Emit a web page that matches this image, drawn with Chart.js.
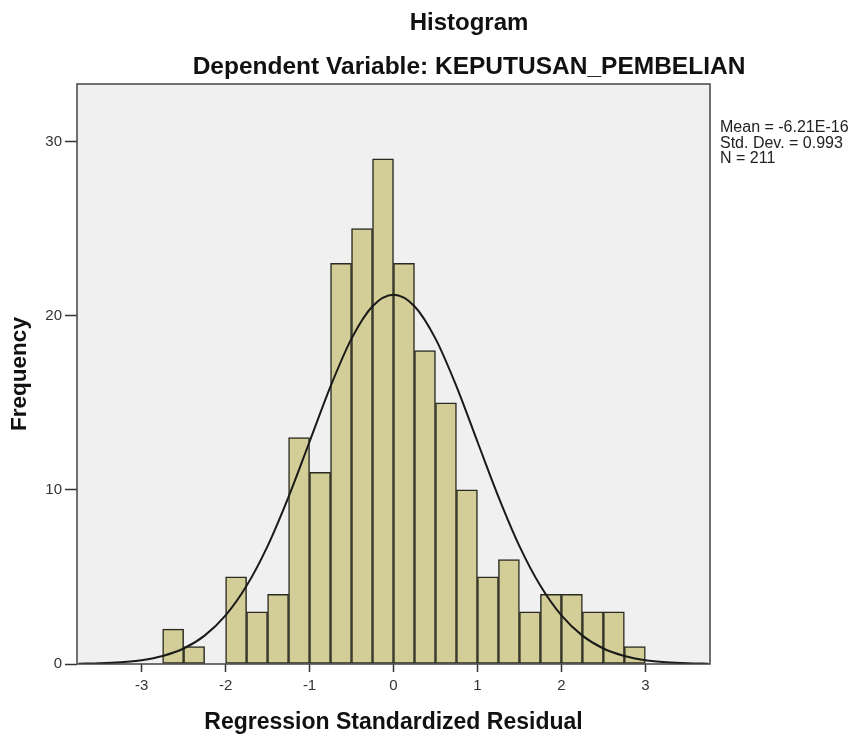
<!DOCTYPE html>
<html>
<head>
<meta charset="utf-8">
<script src="https://cdn.jsdelivr.net/npm/chart.js@4/dist/chart.umd.min.js"></script>
<style>
  html, body { margin: 0; padding: 0; background: #ffffff; }
  #wrap { width: 855px; height: 738px; }
</style>
</head>
<body>
<div id="wrap"><canvas id="c" width="855" height="738"></canvas></div>
<script>
// ---- data ----
const binCenters = [-2.625, -2.375, -2.125, -1.875, -1.625, -1.375, -1.125, -0.875, -0.625, -0.375, -0.125,
                    0.125, 0.375, 0.625, 0.875, 1.125, 1.375, 1.625, 1.875, 2.125, 2.375, 2.625, 2.875];
const frequencies = [2, 1, 0, 5, 3, 4, 13, 11, 23, 25, 29,
                     23, 18, 15, 10, 5, 6, 3, 4, 4, 3, 3, 1];
const curveX = [-3.75, -3.5, -3.25, -3.0, -2.75, -2.5, -2.25, -2.0, -1.75, -1.5, -1.25, -1.0, -0.75, -0.5, -0.25, 0,
                0.25, 0.5, 0.75, 1.0, 1.25, 1.5, 1.75, 2.0, 2.25, 2.5, 2.75, 3.0, 3.25, 3.5, 3.75];
const curveY = [0.02, 0.04, 0.1, 0.22, 0.46, 0.89, 1.63, 2.79, 4.49, 6.77, 9.6, 12.76, 15.94, 18.68, 20.54, 21.2,
                20.54, 18.68, 15.94, 12.76, 9.6, 6.77, 4.49, 2.79, 1.63, 0.89, 0.46, 0.22, 0.1, 0.04, 0.02];
const xTicks = [-3, -2, -1, 0, 1, 2, 3];
const yTicks = [0, 10, 20, 30];
const titleText = 'Histogram';
const subtitleText = 'Dependent Variable: KEPUTUSAN_PEMBELIAN';
const statsLines = ['Mean = -6.21E-16', 'Std. Dev. = 0.993', 'N = 211'];
const xTitle = 'Regression Standardized Residual';
const yTitle = 'Frequency';

const FONT = "'Liberation Sans', Arial, sans-serif";

const decorPlugin = {
  id: 'decor',
  beforeDraw(chart) {
    const { ctx, chartArea: a } = chart;
    ctx.save();
    ctx.fillStyle = '#f0f0f0';
    ctx.fillRect(a.left, a.top, a.right - a.left, a.bottom - a.top);
    ctx.restore();
  },
  afterDraw(chart) {
    const { ctx, chartArea: a } = chart;
    ctx.save();
    // frame
    ctx.strokeStyle = '#444444';
    ctx.lineWidth = 1.5;
    ctx.strokeRect(a.left, a.top, a.right - a.left, a.bottom - a.top);
    // titles
    const cx = (a.left + chart.width) / 2 + 3;
    ctx.fillStyle = '#111111';
    ctx.textAlign = 'center';
    ctx.textBaseline = 'alphabetic';
    ctx.font = 'bold 24px ' + FONT;
    ctx.fillText(titleText, cx, 30);
    ctx.font = 'bold 24.5px ' + FONT;
    ctx.fillText(subtitleText, cx, 74);
    // stats box text
    ctx.textAlign = 'left';
    ctx.font = '16px ' + FONT;
    ctx.fillStyle = '#222222';
    statsLines.forEach((s, i) => ctx.fillText(s, a.right + 10, a.top + 48 + i * 15.5));
    ctx.restore();
  }
};

new Chart(document.getElementById('c'), {
  data: {
    datasets: [
      {
        type: 'line',
        data: curveX.map((x, i) => ({ x: x, y: curveY[i] })),
        borderColor: '#1a1a1a',
        borderWidth: 2,
        pointRadius: 0,
        cubicInterpolationMode: 'monotone',
        fill: false,
        order: 0
      },
      {
        type: 'bar',
        data: binCenters.map((x, i) => ({ x: x, y: frequencies[i] })),
        backgroundColor: '#d3ce97',
        borderColor: '#2a2a20',
        borderWidth: 1.5,
        borderSkipped: false,
        barPercentage: 1,
        categoryPercentage: 1,
        order: 1
      }
    ]
  },
  options: {
    responsive: false,
    animation: false,
    devicePixelRatio: 1,
    layout: { padding: { top: 84, right: 145, bottom: 0, left: 0 } },
    plugins: {
      legend: { display: false },
      tooltip: { enabled: false },
      title: { display: false }
    },
    scales: {
      x: {
        type: 'linear',
        min: -3.77,
        max: 3.77,
        offset: false,
        afterBuildTicks: s => { s.ticks = xTicks.map(v => ({ value: v })); },
        afterFit: s => { s.height = 74; },
        grid: { offset: false, drawOnChartArea: false, drawTicks: true, tickLength: 8, tickColor: '#333333', tickWidth: 1.5 },
        border: { display: false },
        ticks: { color: '#333333', font: { family: FONT, size: 15 }, padding: 5, maxRotation: 0 },
        title: { display: true, text: xTitle, color: '#111111', font: { family: FONT, size: 23, weight: 'bold' }, padding: { top: 0, bottom: 2 } }
      },
      y: {
        type: 'linear',
        min: 0,
        max: 33.3,
        afterBuildTicks: s => { s.ticks = yTicks.map(v => ({ value: v })); },
        afterFit: s => { s.width = 77; },
        grid: { drawOnChartArea: false, drawTicks: true, tickLength: 12, tickColor: '#333333', tickWidth: 1.5 },
        border: { display: false },
        ticks: { color: '#333333', font: { family: FONT, size: 15 }, padding: 3 },
        title: { display: true, text: yTitle, color: '#111111', font: { family: FONT, size: 22.5, weight: 'bold' }, padding: { top: 6, bottom: 0 } }
      }
    }
  },
  plugins: [decorPlugin]
});
</script>
</body>
</html>
